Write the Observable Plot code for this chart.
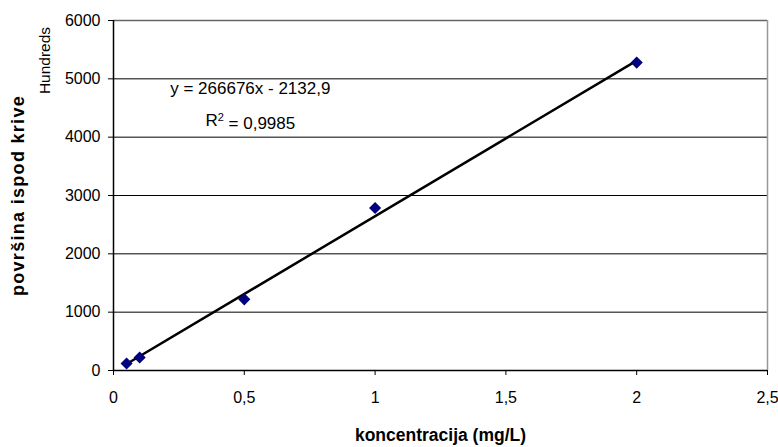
<!DOCTYPE html>
<html>
<head>
<meta charset="utf-8">
<script src="https://cdn.jsdelivr.net/npm/d3@7"></script>
<script src="https://cdn.jsdelivr.net/npm/@observablehq/plot@0.6"></script>
<style>
  html, body { margin: 0; padding: 0; background: #fff; }
  #chart svg { display: block; }
</style>
</head>
<body>
<div id="chart"></div>
<script>
// Data (y in hundreds)
const concentrations = [0.05, 0.1, 0.5, 1, 2];
const areas = [120, 223, 1220, 2785, 5278];
const xTicks = [0, 0.5, 1, 1.5, 2, 2.5];
const yTicks = [0, 1000, 2000, 3000, 4000, 5000, 6000];
const slope = 2666.76, intercept = -21.329; // y = 266676x - 2132,9 (raw units)
const eqLines = ["y = 266676x - 2132,9", "R2 = 0,9985"];

const points = concentrations.map((x, i) => ({x, y: areas[i]}));
const xs = [concentrations[0], concentrations[concentrations.length - 1]];
const trend = xs.map(x => ({x, y: slope * x + intercept}));
const fmt = d => String(d).replace(".", ",");

const chart = Plot.plot({
  width: 778,
  height: 447,
  marginLeft: 113,
  marginRight: 11,
  marginTop: 20,
  marginBottom: 77,
  style: {fontFamily: "'Liberation Sans', Arial, sans-serif", fontSize: "16px", color: "#000", background: "#fff"},
  x: {domain: [0, 2.5]},
  y: {domain: [0, 6000]},
  marks: [
    Plot.ruleY(yTicks.filter(d => d > 0 && d < 6000), {stroke: "#000", strokeWidth: 1}),
    Plot.ruleY([6000], {stroke: "#666", strokeWidth: 1.5}),
    Plot.ruleX([2.5], {stroke: "#999", strokeWidth: 1.5}),
    Plot.axisX({ticks: xTicks, tickFormat: fmt, tickSize: 5, tickPadding: 16, fontSize: 16, label: null}),
    Plot.axisY({ticks: yTicks, tickFormat: d => String(d), tickSize: 5, tickPadding: 8, fontSize: 16, label: null}),
    Plot.ruleY([0], {stroke: "#000", strokeWidth: 1.5}),
    Plot.ruleX([0], {stroke: "#000", strokeWidth: 1.5}),
    Plot.line(trend, {x: "x", y: "y", stroke: "#000", strokeWidth: 2.5}),
    Plot.dot(points, {x: "x", y: "y", symbol: "diamond2", r: 4.5, fill: "#000080", stroke: "#000080"}),
    Plot.text([eqLines[0]], {x: [0.523], y: [4830], text: d => d, fontSize: 17, textAnchor: "middle"}),
    Plot.text([eqLines[1]], {x: [0.523], y: [4280], text: d => d, fontSize: 17, textAnchor: "middle", className: "eq2"}),
    Plot.text(["koncentracija (mg/L)"], {frameAnchor: "bottom", dy: 65, lineAnchor: "middle", text: d => d, fontSize: 17.5, fontWeight: "bold"}),
    Plot.text(["površina ispod krive"], {frameAnchor: "left", dx: -95, rotate: -90, textAnchor: "middle", lineAnchor: "middle", text: d => d, fontSize: 18, fontWeight: "bold", className: "ytitle"}),
    Plot.text(["Hundreds"], {frameAnchor: "top-left", dx: -68, dy: 40, rotate: -90, textAnchor: "middle", lineAnchor: "middle", text: d => d, fontSize: 15.5})
  ]
});
document.getElementById("chart").appendChild(chart);

// letter spacing for y title
d3.select(chart).selectAll(".ytitle text").style("letter-spacing", "1.3px");
// superscript 2 in R2
d3.select(chart).selectAll(".eq2 text").each(function() {
  const t = d3.select(this);
  t.text(null);
  t.append("tspan").text("R");
  t.append("tspan").attr("dy", "-0.5em").attr("font-size", "11px").text("2");
  t.append("tspan").attr("dy", "0.5em").text(" = 0,9985");
});
</script>
</body>
</html>
